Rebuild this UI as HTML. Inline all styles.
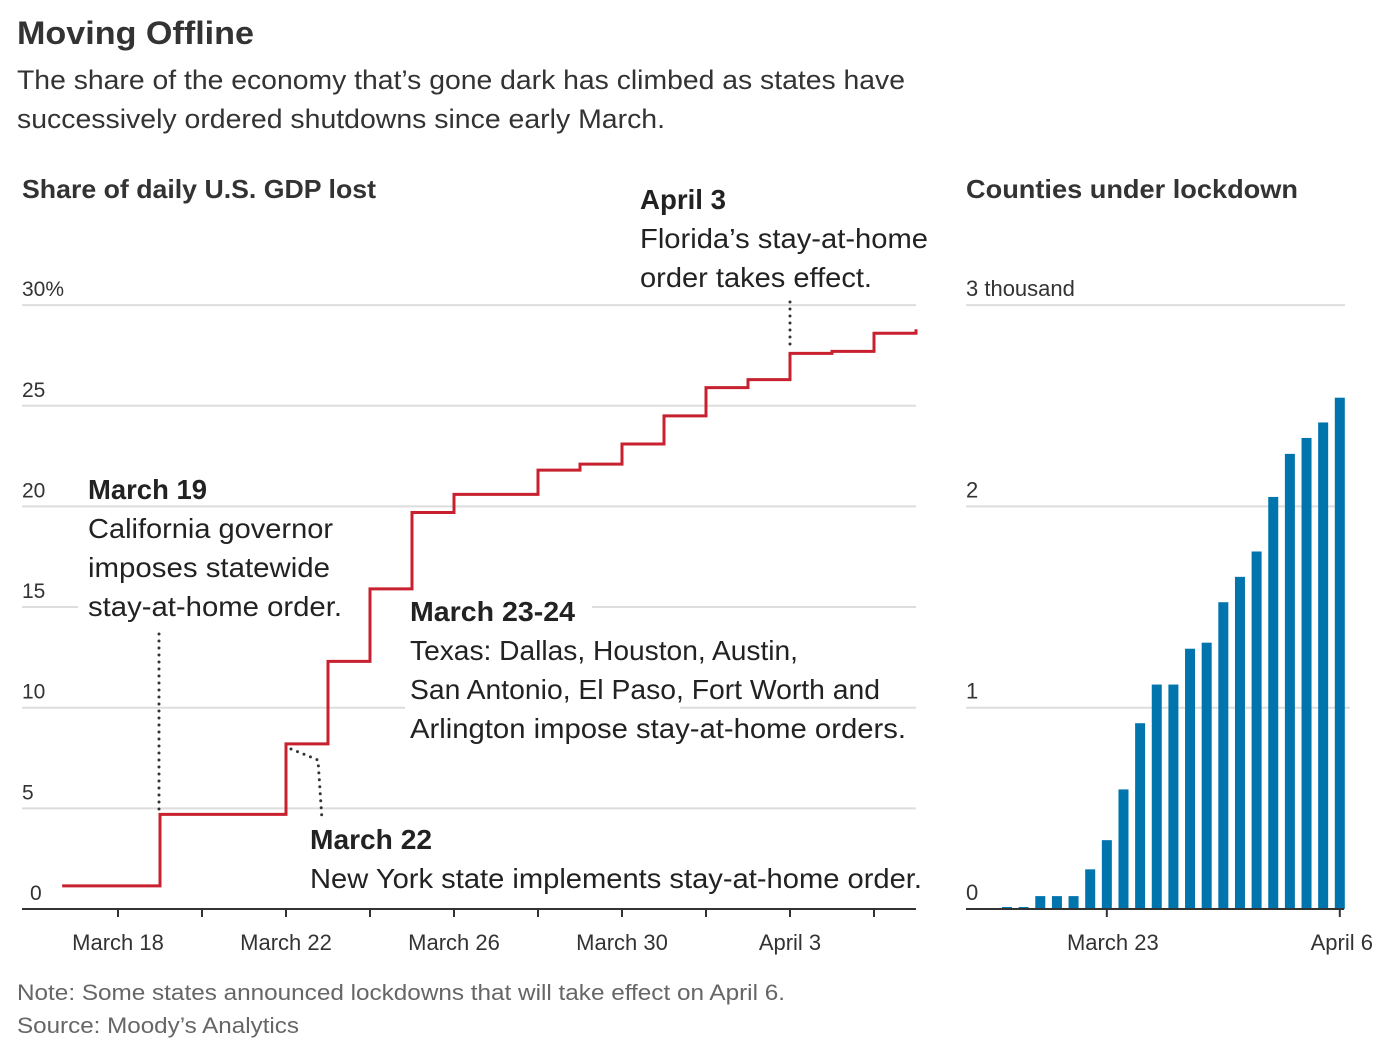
<!DOCTYPE html>
<html><head><meta charset="utf-8">
<style>
body{margin:0;background:#fff;width:1400px;height:1056px;overflow:hidden;font-family:"Liberation Sans",sans-serif;color:#222}
svg text{font-family:"Liberation Sans",sans-serif}
</style></head>
<body>
<svg width="1400" height="1056">
<text x="17" y="44" font-size="32" font-weight="bold" fill="#333" textLength="237" lengthAdjust="spacingAndGlyphs">Moving Offline</text>
<text x="17" y="89" font-size="27" fill="#333" textLength="888" lengthAdjust="spacingAndGlyphs">The share of the economy that’s gone dark has climbed as states have</text>
<text x="17" y="128" font-size="27" fill="#333" textLength="648" lengthAdjust="spacingAndGlyphs">successively ordered shutdowns since early March.</text>
<text x="22" y="198" font-size="26" font-weight="bold" fill="#333" textLength="354" lengthAdjust="spacingAndGlyphs">Share of daily U.S. GDP lost</text>
<text x="966" y="198" font-size="26" font-weight="bold" fill="#333" textLength="332" lengthAdjust="spacingAndGlyphs">Counties under lockdown</text>
<g id="left"></g>
<g id="right"></g>
<g id="ann"></g>
<text x="17" y="1000" font-size="22" fill="#666" textLength="768" lengthAdjust="spacingAndGlyphs">Note: Some states announced lockdowns that will take effect on April 6.</text>
<text x="17" y="1033" font-size="22" fill="#666" textLength="282" lengthAdjust="spacingAndGlyphs">Source: Moody’s Analytics</text>
</svg>
<script>
// GDP step chart data (days offset from March 18)
const stepDays = [1,4,5,6,7,8,10,11,12,13,14,15,16,17,18,19];
const stepValues = [4.7,8.2,12.3,15.9,19.7,20.6,21.8,22.1,23.1,24.5,25.9,26.3,27.6,27.7,28.6,28.8];
const startValue = 1.15;
const gdpTicks = [0,5,10,15,20,25,30];
const gdpXLabels = ["March 18","March 22","March 26","March 30","April 3"];
const gdpXLabelDays = [0,4,8,12,16];
// Counties data (days offset from March 17)
const countyValues = [10,10,64,64,64,197,342,594,923,1115,1115,1293,1323,1524,1650,1776,2047,2261,2340,2417,2540];
const countyTicks = [0,1,2,3];
const countyXLabels = ["March 23","April 6"];
const countyXLabelDays = [6,20];

const NS="http://www.w3.org/2000/svg";
function mk(parent,tag,attrs,text){const e=document.createElementNS(NS,tag);for(const k in attrs)e.setAttribute(k,attrs[k]);if(text!==undefined)e.textContent=text;parent.appendChild(e);return e;}
const L=document.getElementById('left'),R=document.getElementById('right'),A=document.getElementById('ann');
const gx=d=>118+42*d, gy=v=>909-v*20.13;
gdpTicks.forEach((t,i)=>{
  if(t>0){const g=mk(L,'line',{x1:22,x2:916,y1:gy(t),y2:gy(t),stroke:'#ddd','stroke-width':2});
  
  }
  const lb=mk(L,'text',{x:t===0?30:22,y:gy(t)-9,'font-size':21,fill:'#333'},t===30?'30%':String(t));
  
  
});
const ax=mk(L,'line',{x1:22,x2:916,y1:909,y2:909,stroke:'#333','stroke-width':2});


for(let d=0;d<=18;d+=2){const t=mk(L,'line',{x1:gx(d),x2:gx(d),y1:909,y2:917,stroke:'#333','stroke-width':2});

}
gdpXLabels.forEach((s,i)=>{const t=mk(L,'text',{x:gx(gdpXLabelDays[i]),y:950,'font-size':22,fill:'#333','text-anchor':'middle'},s);

});
[[78,590,282,30],[350,590,242,30],[405,680,275,50]].forEach(r=>{const w=mk(L,'rect',{x:r[0],y:r[1],width:r[2],height:r[3],fill:'#fff'});

});
let p='M'+gx(-1.33)+','+gy(startValue);let prev=startValue;
stepDays.forEach((d,i)=>{p+=' L'+gx(d)+','+gy(prev)+' L'+gx(d)+','+gy(stepValues[i]);prev=stepValues[i];});
const line=mk(L,'path',{d:p,fill:'none',stroke:'#c8202f','stroke-width':3});


const bx=d=>1007+16.64*d, by=v=>909-v*0.2013;
countyTicks.forEach(t=>{
  if(t>0){const g=mk(R,'line',{x1:966,x2:t===1?1350:1345,y1:by(t*1000),y2:by(t*1000),stroke:'#ddd','stroke-width':2});
  
  }
  const lb=mk(R,'text',{x:966,y:by(t*1000)-9,'font-size':22,fill:'#333'},t===3?'3 thousand':String(t));
  
  
});
countyValues.forEach((v,i)=>{const b=mk(R,'rect',{x:bx(i)-5,y:by(v),width:10,height:909-by(v),fill:'#0074ad'});

});
const ax2=mk(R,'line',{x1:966,x2:1344,y1:909,y2:909,stroke:'#333','stroke-width':2});


countyXLabels.forEach((s,i)=>{const x=bx(countyXLabelDays[i]);
const t=mk(R,'line',{x1:x,x2:x,y1:909,y2:917,stroke:'#333','stroke-width':2});


const l=mk(R,'text',{x:i===1?x+2:x+6,y:950,'font-size':22,fill:'#333','text-anchor':'middle'},s);

});
function dots(d){const e=mk(A,'path',{d:d,fill:'none',stroke:'#333','stroke-width':3,'stroke-dasharray':'0 7','stroke-linecap':'round'});

}
dots('M159,634 L159,812');
dots('M291,749 L318,760 L322,820');
dots('M790,302 L790,350');
function txt(x,y,s,b,name,w){const e=mk(A,'text',{x:x,y:y,'font-size':28,fill:'#222','font-weight':b?'bold':'normal',textLength:w,lengthAdjust:'spacingAndGlyphs'},s);

}
txt(88,499,'March 19',1,'annotation-march19-title',119);
txt(88,538,'California governor',0,'annotation-march19-text',245);
txt(88,577,'imposes statewide',0,'annotation-march19-text',242);
txt(88,616,'stay-at-home order.',0,'annotation-march19-text',254);
txt(410,621,'March 23-24',1,'annotation-march23-title',165);
txt(410,660,'Texas: Dallas, Houston, Austin,',0,'annotation-march23-text',388);
txt(410,699,'San Antonio, El Paso, Fort Worth and',0,'annotation-march23-text',470);
txt(410,738,'Arlington impose stay-at-home orders.',0,'annotation-march23-text',496);
txt(310,849,'March 22',1,'annotation-march22-title',122);
txt(310,888,'New York state implements stay-at-home order.',0,'annotation-march22-text',612);
txt(640,209,'April 3',1,'annotation-april3-title',86);
txt(640,248,'Florida’s stay-at-home',0,'annotation-april3-text',288);
txt(640,287,'order takes effect.',0,'annotation-april3-text',232);
</script>
</body></html>
